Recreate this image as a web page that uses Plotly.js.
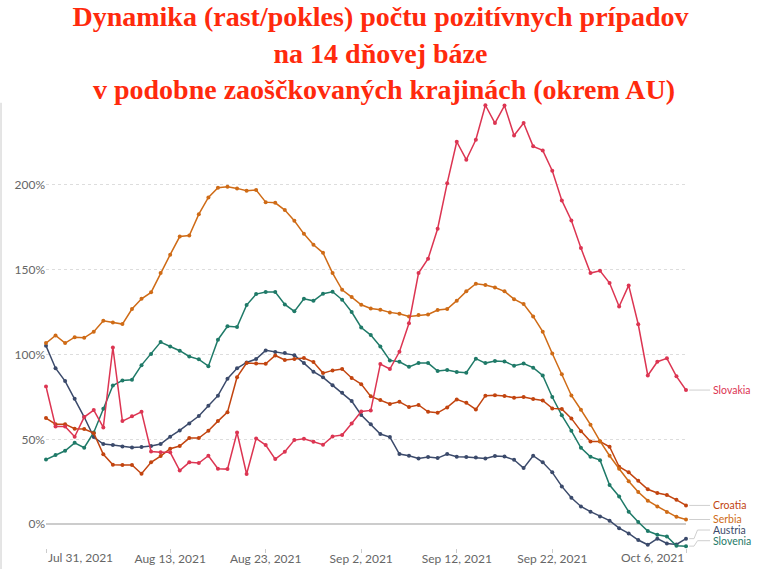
<!DOCTYPE html>
<html>
<head>
<meta charset="utf-8">
<script src="https://cdn.plot.ly/plotly-3.0.1.min.js"></script>
<style>html,body{margin:0;padding:0;background:#fff;}#chart{width:761px;height:569px;}</style>
</head>
<body>
<div id="chart"></div>
<script>
const dates = [
 '2021-07-31',
 '2021-08-01','2021-08-02','2021-08-03','2021-08-04','2021-08-05','2021-08-06','2021-08-07','2021-08-08','2021-08-09','2021-08-10',
 '2021-08-11','2021-08-12','2021-08-13','2021-08-14','2021-08-15','2021-08-16','2021-08-17','2021-08-18','2021-08-19','2021-08-20',
 '2021-08-21','2021-08-22','2021-08-23','2021-08-24','2021-08-25','2021-08-26','2021-08-27','2021-08-28','2021-08-29','2021-08-30','2021-08-31',
 '2021-09-01','2021-09-02','2021-09-03','2021-09-04','2021-09-05','2021-09-06','2021-09-07','2021-09-08','2021-09-09','2021-09-10',
 '2021-09-11','2021-09-12','2021-09-13','2021-09-14','2021-09-15','2021-09-16','2021-09-17','2021-09-18','2021-09-19','2021-09-20',
 '2021-09-21','2021-09-22','2021-09-23','2021-09-24','2021-09-25','2021-09-26','2021-09-27','2021-09-28','2021-09-29','2021-09-30',
 '2021-10-01','2021-10-02','2021-10-03','2021-10-04','2021-10-05','2021-10-06'
];

const slovakia = [81.2,57.7,57.7,51.6,63.2,67.3,57.1,104.2,60.8,63.6,
 66.3,42.9,42.4,42.4,31.7,36.5,36.1,40.4,32.7,32.5,
 54.1,29.6,50.6,46.7,38.4,42.7,49.6,50.4,48.6,46.9,
 51.8,52.6,59.4,66.5,67.1,94.4,91.5,101.7,118.5,148.1,
 156.5,174.2,201.1,225.5,214.9,226.7,247,236.5,246.8,229.2,
 236.5,222.8,220.4,208.4,190.9,179.1,162.8,148.1,149.4,142.2,
 128.4,140.8,117.9,87.7,95.8,97.8,87.2,79.1];

const croatia = [62.6,59,59,56.3,56.1,53.7,41.2,35.1,34.9,34.9,
 29.8,36.5,40.2,44.5,46.1,50.8,50.8,55.1,60.8,66.1,
 86.7,95,94.8,94.6,99.5,96.8,97.4,98,95.6,89.1,
 90.7,91.5,86.2,82.6,75.4,73.2,70.9,72.2,69.1,70.3,
 66.3,65.7,68.9,73.6,71.6,67.7,75.8,76,75.6,74.6,
 75,73.8,73,68.3,67.9,62.4,54.9,48.8,48.8,45.7,
 33.9,30.6,25.6,20.6,18.4,17.2,14.4,11.1];

const serbia = [106.8,111.3,106.8,110.3,109.9,113.5,120,119,118,126.9,
 132.9,136.7,148.1,158.9,169.6,170.2,182.8,192.7,198.4,199,
 198,196.6,197,189.9,189.5,185.2,178.9,171.2,164.8,160,
 148.1,138.2,133.9,129.4,127.2,126.5,124.9,124.1,122.5,123.3,
 123.7,126.3,126.9,131.8,137.3,141.8,141,139.6,137.3,132.7,
 129.8,122.5,113.5,100.7,88.5,75.9,67.5,58.7,49,40.4,
 32.7,25.4,19,13.9,10.5,7.2,4.4,2.8];

const austria = [105.2,92,84.4,74,63.2,51.4,47.3,46.7,45.9,45.3,
 45.5,46.1,47.3,51.6,55.3,59.4,63.8,69.9,75.8,85.8,
 91.9,95.4,97.4,102.5,101.5,100.9,99.7,95,89.9,86.6,
 82,77.5,72.6,64.4,58.9,53.2,51.4,41.4,40.4,38.8,
 39.6,39,41.4,39.8,39.6,39.4,38.8,40.2,39.9,38,
 33.1,40.4,36.5,30.6,22.3,15.6,10.5,7.4,4.6,2.1,
 -2.3,-5.4,-9.3,-12.1,-8.5,-11.3,-11.9,-8.5];

const slovenia = [38.2,40.8,43.3,48,45.1,54.1,68.1,81.8,84.8,85.2,
 93.8,100.3,107.4,104.8,102.3,98.9,97.2,93.2,108.8,116.7,
 116.3,129.2,135.7,136.9,136.9,129.6,125.5,132.9,131.7,135.9,
 137.1,132.4,125.1,116,111.5,104.8,96.6,95.8,92.8,95,
 95,90.3,90.9,89.7,89.3,97.6,95,96.2,96,93.4,
 94.8,92.3,87.7,75,64.2,55.1,45.1,39.8,37.8,23.1,
 16.4,7.4,1.3,-4,-6.2,-7.2,-12.7,-12.9];

const seriesNames = ['Austria','Slovenia','Croatia','Serbia','Slovakia'];
const seriesData = [austria, slovenia, croatia, serbia, slovakia];
const seriesColors = ['#3b4a6b','#1f7a68','#c2440f','#cf6b16','#dc3552'];

const xTickVals = ['2021-07-31','2021-08-13','2021-08-23','2021-09-02','2021-09-12','2021-09-22','2021-10-06'];
const xTickText = ['Jul 31, 2021','Aug 13, 2021','Aug 23, 2021','Sep 2, 2021','Sep 12, 2021','Sep 22, 2021','Oct 6, 2021'];
const yTickVals = [0,50,100,150,200];
const yTickText = ['0%','50%','100%','150%','200%'];

const traces = seriesNames.map((n,i)=>({
  type:'scatter', mode:'lines+markers', name:n,
  x:dates, y:seriesData[i],
  line:{color:seriesColors[i], width:1.5},
  marker:{color:seriesColors[i], size:4},
  cliponaxis:false, hoverinfo:'skip'
}));

// label placement: push labels up from the bottom so they don't overlap
const order = seriesNames.map((n,i)=>i).sort((a,b)=>seriesData[a][seriesData[a].length-1]-seriesData[b][seriesData[b].length-1]);
const labelY = {};
let prev = null;
const minGap = 6.3, floorY = -9.7;
order.forEach(i=>{
  const v = seriesData[i][seriesData[i].length-1];
  let y = (prev===null) ? Math.max(v, floorY) : Math.max(v, prev+minGap);
  labelY[i] = y; prev = y;
});

const shapes = [];
const annotations = [];
seriesNames.forEach((n,i)=>{
  const v = seriesData[i][seriesData[i].length-1];
  const ly = labelY[i];
  let path;
  if (Math.abs(ly-v) < 0.5) {
    path = `M 1.005 ${v} L 1.0375 ${v}`;
  } else {
    path = `M 1.005 ${v} L 1.0125 ${v} L 1.018 ${ly} L 1.0375 ${ly}`;
  }
  shapes.push({type:'path', xref:'paper', yref:'y', path:path, line:{color:'#cfcfcf', width:1}});
  annotations.push({xref:'paper', yref:'y', x:1.039, y:ly, xanchor:'left', yanchor:'middle', showarrow:false,
    text:n, font:{family:'Lato', size:10.5, color:seriesColors[i]}});
});

// first & last x tick labels aligned to the plot edges
annotations.push({xref:'paper', yref:'paper', x:0, y:0, xanchor:'left', yanchor:'top', yshift:0, showarrow:false,
  text:xTickText[0], font:{family:'Lato', size:12, color:'#666'}});
annotations.push({xref:'paper', yref:'paper', x:1, y:0, xanchor:'right', yanchor:'top', yshift:0, showarrow:false,
  text:xTickText[xTickText.length-1], font:{family:'Lato', size:12, color:'#666'}});
const shownTickText = xTickText.map((t,i)=> (i===0 || i===xTickText.length-1) ? '' : t);

// page border line
shapes.push({type:'line', xref:'paper', yref:'paper', x0:-0.0703, x1:-0.0703, y0:-0.05, y1:0.972, line:{color:'#dcdcdc', width:1.5}});

const layout = {
  width:761, height:569,
  margin:{l:46, r:75, t:90, b:21},
  paper_bgcolor:'#ffffff', plot_bgcolor:'#ffffff',
  showlegend:false,
  title:{
    text:'Dynamika (rast/pokles) počtu pozitívnych prípadov<br>na 14 dňovej báze<br> v podobne zaoščkovaných krajinách (okrem AU)',
    font:{family:'Liberation Serif', size:28, color:'#ff2a0d', weight:'bold'},
    x:0.5, xref:'container', xanchor:'center', y:0.954, yref:'container', yanchor:'top'
  },
  xaxis:{
    type:'date', range:[dates[0], dates[dates.length-1]],
    tickmode:'array', tickvals:xTickVals, ticktext:shownTickText,
    ticks:'outside', ticklen:4, tickcolor:'#cccccc',
    ticklabelstandoff:-4,
    showgrid:false, zeroline:false, showline:false,
    tickfont:{family:'Lato', size:12, color:'#666'}
  },
  yaxis:{
    range:[-14,256], tickmode:'array', tickvals:yTickVals, ticktext:yTickText,
    showgrid:true, gridcolor:'#dddddd', griddash:'3px,3px', gridwidth:1,
    zeroline:true, zerolinecolor:'#cccccc', zerolinewidth:2,
    showline:false, ticks:'',
    tickfont:{family:'Lato', size:12, color:'#666'}
  },
  shapes:shapes,
  annotations:annotations
};

Plotly.newPlot('chart', traces, layout, {displayModeBar:false, staticPlot:true});
</script>
</body>
</html>
